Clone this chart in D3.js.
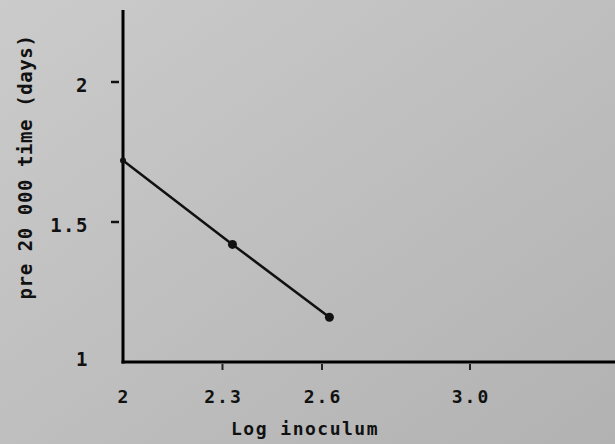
<!DOCTYPE html>
<html>
<head>
<meta charset="utf-8">
<script src="https://cdn.jsdelivr.net/npm/d3@7"></script>
<style>
  html, body { margin: 0; padding: 0; background: #bebebe; }
  svg text { font-family: "DejaVu Sans Mono", monospace; font-weight: bold; fill: #111; white-space: pre; }
</style>
</head>
<body>
<div id="vis"></div>
<script>
// data
const logInoculum = [2.0, 2.33, 2.62];
const preTime = [1.72, 1.42, 1.16];
const xTicks = [2, 2.3, 2.6, 3.0];
const xTickLabels = ["2", "2.3", "2.6", "3.0"];
const yTicks = [1, 1.5, 2];
const yTickLabels = ["1", "1.5", "2"];

const W = 615, H = 444;

const svg = d3.select("#vis").append("svg")
  .attr("width", W)
  .attr("height", H);

// scanned paper look
const grad = svg.append("defs").append("linearGradient")
  .attr("id", "paper").attr("x1", 0).attr("y1", 0).attr("x2", 1).attr("y2", 1);
grad.append("stop").attr("offset", "0%").attr("stop-color", "#cbcbcb");
grad.append("stop").attr("offset", "100%").attr("stop-color", "#b2b2b2");
svg.append("rect").attr("width", W).attr("height", H).attr("fill", "url(#paper)");

// hand drawn axis: ticks are not evenly spaced
const x = d3.scaleLinear()
  .domain([2, 2.6, 3.0])
  .range([123, 322, 470]);

const y = d3.scaleLinear()
  .domain([1, 2])
  .range([362, 82]);

const x0 = 123, y0 = 362;

// axes
svg.append("line")
  .attr("x1", x0).attr("x2", x0)
  .attr("y1", 10).attr("y2", y0 + 1.5)
  .attr("stroke", "#000").attr("stroke-width", 3);

svg.append("line")
  .attr("x1", x0 - 1.5).attr("x2", W)
  .attr("y1", y0).attr("y2", y0)
  .attr("stroke", "#000").attr("stroke-width", 3);

// y ticks
svg.selectAll("line.ytick")
  .data(yTicks.filter(d => d > 1))
  .enter().append("line")
  .attr("class", "ytick")
  .attr("x1", 111).attr("x2", 119)
  .attr("y1", d => y(d)).attr("y2", d => y(d))
  .attr("stroke", "#111").attr("stroke-width", 2.5);

svg.selectAll("text.ylab")
  .data(yTicks)
  .enter().append("text")
  .attr("class", "ylab")
  .attr("x", 89)
  .attr("y", d => d === 1 ? y(d) + 4 : y(d) + 10)
  .attr("text-anchor", "end")
  .style("font-size", "19px")
  .style("letter-spacing", "1.5px")
  .text((d, i) => yTickLabels[i]);

// x ticks
svg.selectAll("line.xtick")
  .data(xTicks.filter(d => d > 2))
  .enter().append("line")
  .attr("class", "xtick")
  .attr("x1", d => x(d)).attr("x2", d => x(d))
  .attr("y1", y0 + 2).attr("y2", y0 + 8)
  .attr("stroke", "#222").attr("stroke-width", 2);

svg.selectAll("text.xlab")
  .data(xTicks)
  .enter().append("text")
  .attr("class", "xlab")
  .attr("x", d => x(d) + 1)
  .attr("y", 403)
  .attr("text-anchor", "middle")
  .style("font-size", "18px")
  .style("letter-spacing", "2px")
  .text((d, i) => xTickLabels[i]);

// axis titles
svg.append("text")
  .attr("x", 305).attr("y", 435)
  .attr("text-anchor", "middle")
  .style("font-size", "18px")
  .style("letter-spacing", "1.5px")
  .text("Log inoculum");

svg.append("text")
  .attr("transform", "translate(32,167) rotate(-90)")
  .attr("text-anchor", "middle")
  .style("font-size", "19px")
  .style("letter-spacing", "0.6px")
  .text("pre 20 000 time (days)");

// data line and points
const pts = logInoculum.map((d, i) => ({ x: d, y: preTime[i] }));

svg.append("path")
  .datum(pts)
  .attr("fill", "none")
  .attr("stroke", "#111")
  .attr("stroke-width", 2.5)
  .attr("d", d3.line().x(d => x(d.x)).y(d => y(d.y)));

svg.selectAll("circle")
  .data(pts)
  .enter().append("circle")
  .attr("cx", d => x(d.x))
  .attr("cy", d => y(d.y))
  .attr("r", (d, i) => i === 0 ? 3 : 4.5)
  .attr("fill", "#111");
</script>
</body>
</html>
